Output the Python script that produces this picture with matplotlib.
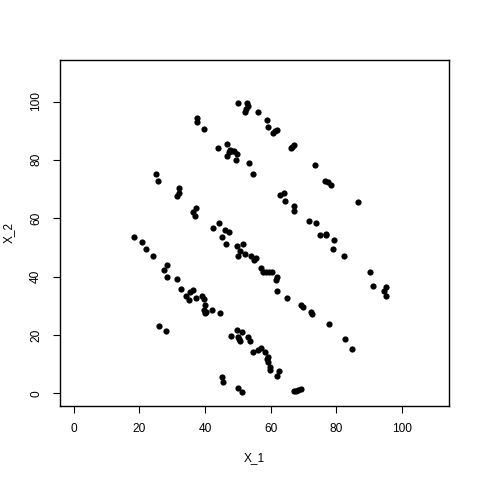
import matplotlib
matplotlib.use("Agg")
import matplotlib.pyplot as plt

plt.rcParams['font.family'] = ['Liberation Sans', 'DejaVu Sans']

# valores
x_1 = [50.1, 52.7, 53.1, 52.6, 52.2, 56.2, 58.9, 59.2, 60.9, 61.4,
       62.1, 37.6, 37.6, 39.8, 44.0, 46.7, 47.5, 47.3, 48.1, 48.9,
       49.8, 46.7, 49.5, 53.4, 54.6, 24.9, 25.8, 32.2, 32.0, 31.6,
       37.3, 36.4, 37.0, 44.3, 42.5, 46.1, 47.2, 45.2, 46.4, 49.8,
       51.6, 50.7, 50.1, 52.2, 54.0, 55.7, 55.0, 57.1, 57.7, 58.7,
       59.5, 60.4, 61.9, 61.6, 62.1, 18.2, 20.9, 21.9, 24.0, 28.5,
       27.6, 28.5, 31.3, 32.8, 34.3, 35.4, 36.3, 35.1, 37.3, 39.2,
       39.8, 40.1, 39.8, 40.1, 40.4, 42.2, 44.6, 26.1, 28.2, 49.8,
       51.3, 48.0, 50.1, 50.4, 50.7, 53.1, 53.7, 54.6, 56.2, 57.1,
       58.3, 58.9, 59.2, 59.2, 59.8, 59.8, 62.5, 62.1, 45.2, 45.5,
       50.1, 51.3, 66.2, 66.5, 67.1, 73.5, 76.5, 77.4, 78.6, 86.8,
       62.8, 64.1, 64.4, 67.1, 67.1, 71.6, 73.8, 75.0, 76.8, 76.9,
       79.5, 79.2, 82.3, 65.1, 69.2, 69.8, 72.3, 72.6, 77.7, 82.6,
       85.0, 90.5, 91.4, 94.7, 95.3, 95.3, 67.1, 67.8, 68.5, 69.2]

x_2 = [99.6, 99.6, 98.5, 97.5, 96.5, 96.5, 93.7, 91.3, 89.3, 90.0,
       90.4, 94.5, 93.1, 90.7, 84.2, 85.5, 83.5, 82.8, 83.2, 83.1,
       82.1, 81.4, 80.1, 79.0, 75.3, 75.3, 72.9, 70.2, 68.6, 67.7,
       63.6, 62.3, 60.9, 58.2, 56.8, 55.8, 55.3, 53.7, 51.0, 50.6,
       51.0, 48.6, 47.2, 47.9, 47.2, 46.5, 45.8, 42.8, 41.7, 41.4,
       41.4, 41.4, 39.7, 38.7, 35.2, 53.7, 51.7, 49.6, 47.2, 44.1,
       42.1, 39.7, 39.3, 35.9, 33.5, 34.8, 35.4, 31.8, 32.8, 33.2,
       32.2, 30.1, 28.4, 27.4, 27.7, 28.4, 27.4, 22.9, 21.2, 21.6,
       20.9, 19.5, 19.2, 18.5, 17.8, 19.2, 17.8, 14.0, 14.7, 15.4,
       14.0, 11.6, 12.3, 10.6, 8.9, 7.9, 7.5, 5.8, 5.5, 3.8,
       1.7, 0.3, 84.2, 84.5, 85.2, 78.3, 72.9, 72.5, 71.5, 65.7,
       68.1, 68.8, 66.0, 64.3, 62.6, 59.2, 58.5, 54.1, 54.7, 54.1,
       52.7, 49.3, 46.9, 32.8, 30.1, 29.4, 27.7, 27.0, 23.6, 18.5,
       15.1, 41.4, 36.9, 34.9, 36.3, 33.2, 0.7, 0.9, 1.1, 1.4]

ticks = [0, 20, 40, 60, 80, 100]

fig = plt.figure(figsize=(4.8, 4.8), dpi=100)
ax = fig.add_axes([0.124, 0.154, 0.811, 0.722])

ax.scatter(x_1, x_2, s=20, c='black', linewidths=0)

ax.set_xlim(-4.4, 114.4)
ax.set_ylim(-4.4, 114.4)
ax.set_xticks(ticks)
ax.set_yticks(ticks)
ax.tick_params(direction='out', length=5, width=0.8, labelsize=8.6, pad=7.5)
for lab in ax.get_yticklabels():
    lab.set_rotation(90)
    lab.set_va('center')
for sp in ax.spines.values():
    sp.set_linewidth(1)

ax.set_xlabel('X_1', fontsize=8.6, va='center')
ax.xaxis.set_label_coords(0.5, -0.149)
ax.set_ylabel('X_2', fontsize=8.6, va='center')
ax.yaxis.set_label_coords(-0.130, 0.5)

fig.savefig('out.png', dpi=100)
